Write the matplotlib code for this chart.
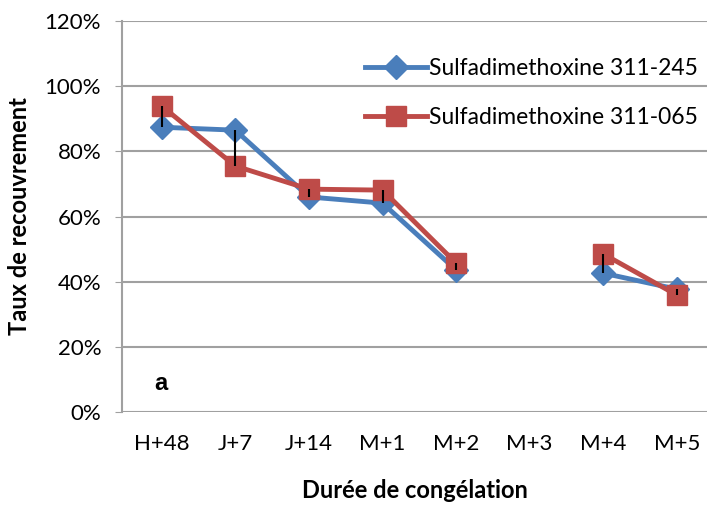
import numpy as np
import matplotlib.pyplot as plt

# durées de congélation et taux de recouvrement (%)
durees = ['H+48', 'J+7', 'J+14', 'M+1', 'M+2', 'M+3', 'M+4', 'M+5']
lot_245 = [87.4, 86.5, 66.0, 64.1, 43.6, np.nan, 42.6, 37.7]
lot_065 = [93.9, 75.5, 68.4, 68.1, 45.7, np.nan, 48.5, 35.9]

bleu = '#4A7EBB'
rouge = '#BE4B48'
gris = '#A0A0A0'

plt.rcParams['font.family'] = ['Lato', 'DejaVu Sans']

fig = plt.figure(figsize=(7.07, 5.09), dpi=100)
ax = fig.add_axes([0.1726, 0.1906, 0.8274, 0.7681])

x = np.arange(len(durees))
ax.plot(x, lot_245, color=bleu, lw=3.5, marker='D', ms=12.5, label='Sulfadimethoxine 311-245', zorder=3)
ax.plot(x, lot_065, color=rouge, lw=3.5, marker='s', ms=15, label='Sulfadimethoxine 311-065', zorder=4)

# barres d'erreur entre les deux lots
b = np.array(lot_245)
r = np.array(lot_065)
ok = ~np.isnan(b)
ax.vlines(x[ok], np.minimum(b, r)[ok], np.maximum(b, r)[ok], color='black', lw=1.5, zorder=5)

ax.set_ylim(0, 120)
ax.set_xlim(-0.54, 7.41)
ax.set_yticks(np.arange(0, 121, 20))
ax.set_yticklabels([f'{v}%' for v in range(0, 121, 20)], fontsize=16)
ax.set_xticks(x)
ax.set_xticklabels(durees, fontsize=16)
ax.tick_params(axis='x', length=0, pad=16)
ax.tick_params(axis='y', length=5, color=gris, pad=10)
ax.grid(axis='y', color=gris, lw=1.5)
ax.set_axisbelow(True)
for s in ['top', 'right', 'bottom']:
    ax.spines[s].set_visible(False)
ax.spines['left'].set_color(gris)
ax.spines['left'].set_linewidth(1.5)

ax.set_xlabel('Durée de congélation', fontsize=17, fontweight='bold', labelpad=18)
ax.set_ylabel('Taux de recouvrement', fontsize=17, fontweight='bold', labelpad=10)

ax.text(0.055, 0.055, 'a', transform=ax.transAxes, fontsize=17, fontweight='bold',
        family='Liberation Sans')

ax.legend(loc='upper left', bbox_to_anchor=(0.4, 0.93), frameon=False, fontsize=16.5,
          handlelength=2.7, handletextpad=0.1, labelspacing=1.25, borderaxespad=0)

fig.savefig('out.png', dpi=100)
